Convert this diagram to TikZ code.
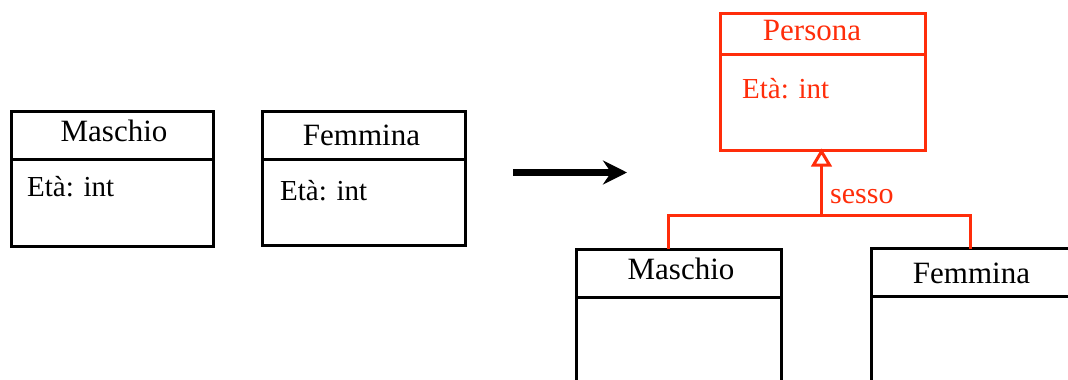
\documentclass[tikz,border=0pt]{standalone}
\usepackage{fontspec}
\setmainfont{Liberation Serif}
\newfontfamily\umlfont{Liberation Serif}
\usetikzlibrary{arrows.meta,calc}
\definecolor{umlred}{RGB}{255,45,10}
\begin{document}
\begin{tikzpicture}[x=1pt,y=-1pt,
  classbox/.style={draw,line width=3pt,inner sep=0pt,outer sep=0pt,anchor=north west},
  title/.style={anchor=base,inner sep=0pt,font=\umlfont\fontsize{31}{36}\selectfont},
  attr/.style={anchor=base west,inner sep=0pt,font=\umlfont\fontsize{29}{34}\selectfont},
  divider/.style={line width=3pt},
  redline/.style={line width=3pt,draw=umlred}]
\useasboundingbox (0,0) rectangle (1068,380);
% left: separate classes
\node[classbox,minimum width=202pt,minimum height=135pt] (m1) at (11,111.5) {};
\draw[divider] ($(m1.north west)+(0,48)$) -- ($(m1.north east)+(0,48)$);
\node[title] (m1t) at (114,141.5) {Maschio};
\node[attr] (m1a) at (27,196.5) {Età: int};

\node[classbox,minimum width=202.5pt,minimum height=134pt] (f1) at (262.5,111.5) {};
\draw[divider] ($(f1.north west)+(0,48)$) -- ($(f1.north east)+(0,48)$);
\node[title] (f1t) at (361.5,145) {Femmina};
\node[attr] (f1a) at (280,200) {Età: int};

% arrow
\coordinate (as) at (513,172.5);
\coordinate (ae) at (627,172.5);
\draw[line width=7pt,-{Stealth[length=24pt,width=24pt,inset=8pt]}] (as) -- (ae);

% right: generalisation
\node[classbox,draw=umlred,minimum width=205pt,minimum height=136.5pt] (p) at (720,13.5) {};
\draw[divider,umlred] ($(p.north west)+(0,40.5)$) -- ($(p.north east)+(0,40.5)$);
\node[title,text=umlred] (pt) at (812,40) {Persona};
\node[attr,text=umlred] (pa) at (742,98) {Età: int};

\node[classbox,minimum width=205pt,minimum height=200pt] (m2) at (576.5,249) {};
\draw[divider] ($(m2.north west)+(0,48.5)$) -- ($(m2.north east)+(0,48.5)$);
\node[title] (m2t) at (681,279) {Maschio};

\node[classbox,minimum width=300pt,minimum height=200pt] (f2) at (871.5,248.5) {};
\draw[divider] ($(f2.north west)+(0,48)$) -- ($(f2.north east)+(0,48)$);
\node[title] (f2t) at (971.5,283) {Femmina};

\coordinate (cm) at (668.5,249);
\coordinate (cf) at (970.5,248.5);
\coordinate (j) at (821.5,215);
\coordinate (tip) at (821.5,151.5);
\coordinate (tb) at (821.5,165);
\draw[redline] (cm) |- (j) -| (cf);
\draw[redline] (j) -- (tb);
\draw[redline,line join=miter,fill=white] (tip) -- ($(tb)+(-8,0)$) -- ($(tb)+(8,0)$) -- cycle;
\node[anchor=base west,inner sep=0pt,text=umlred,font=\umlfont\fontsize{30}{36}\selectfont] (s) at (830,203) {sesso};
\end{tikzpicture}
\end{document}
